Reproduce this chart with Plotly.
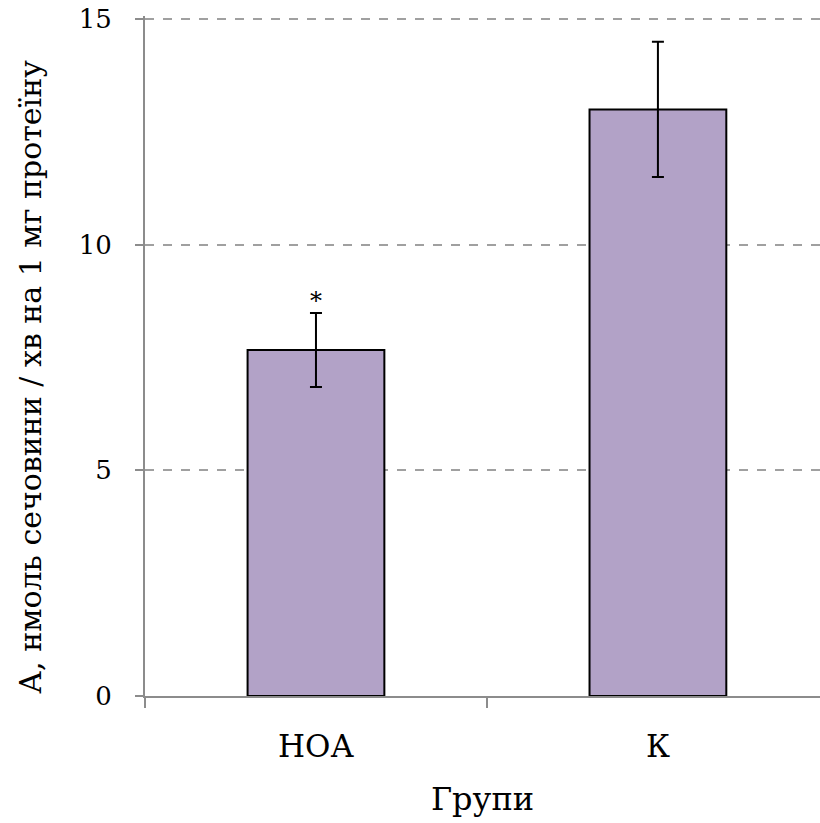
import plotly.graph_objects as go

categories = ["НОА", "К"]
values = [7.67, 13.0]
errors = [0.82, 1.5]
marks = ["*", ""]
y_ticks = [0, 5, 10, 15]
y_title = "А, нмоль сечовини / хв на 1 мг протеїну"
x_title = "Групи"

FONT = "DejaVu Serif"

fig = go.Figure()
fig.add_trace(go.Bar(
    x=categories, y=values, width=0.4,
    marker=dict(color="#b2a2c7", line=dict(color="black", width=2)),
    error_y=dict(type="data", array=errors, visible=True, color="black", thickness=2, width=6),
))

for c, v, e, m in zip(categories, values, errors, marks):
    if m:
        fig.add_annotation(x=c, y=v + e, text=m, showarrow=False, yanchor="bottom",
                           yshift=-4, font=dict(family=FONT, size=24, color="black"))

fig.add_annotation(text=y_title, textangle=-90, xref="paper", yref="paper",
                   x=-0.17, y=0.47, xanchor="center", yanchor="middle", showarrow=False,
                   font=dict(family=FONT, size=30, color="black"))

fig.update_layout(
    width=820, height=823,
    margin=dict(l=145, r=0, t=16, b=127),
    plot_bgcolor="white", paper_bgcolor="white",
    showlegend=False,
    font=dict(family=FONT, size=28, color="black"),
    xaxis=dict(
        range=[-0.5, 1.474], showline=True, linecolor="#8c8c8c", linewidth=2,
        ticks="outside", tickson="boundaries", ticklen=10, tickcolor="#8c8c8c", tickwidth=2,
        showgrid=False, ticklabelstandoff=22,
        title=dict(text=x_title, standoff=24, font=dict(family=FONT, size=32)),
        tickfont=dict(family=FONT, size=31),
    ),
    yaxis=dict(
        range=[0, 15.07], tickvals=y_ticks, showline=True, linecolor="#8c8c8c", linewidth=2,
        ticks="outside", ticklen=8, tickcolor="#8c8c8c", tickwidth=2,
        showgrid=True, gridcolor="#a0a0a0", griddash="dash", gridwidth=1.5,
        zeroline=False, ticklabelstandoff=18,
        tickfont=dict(family=FONT, size=26),
    ),
)

fig.write_html("out.html")
